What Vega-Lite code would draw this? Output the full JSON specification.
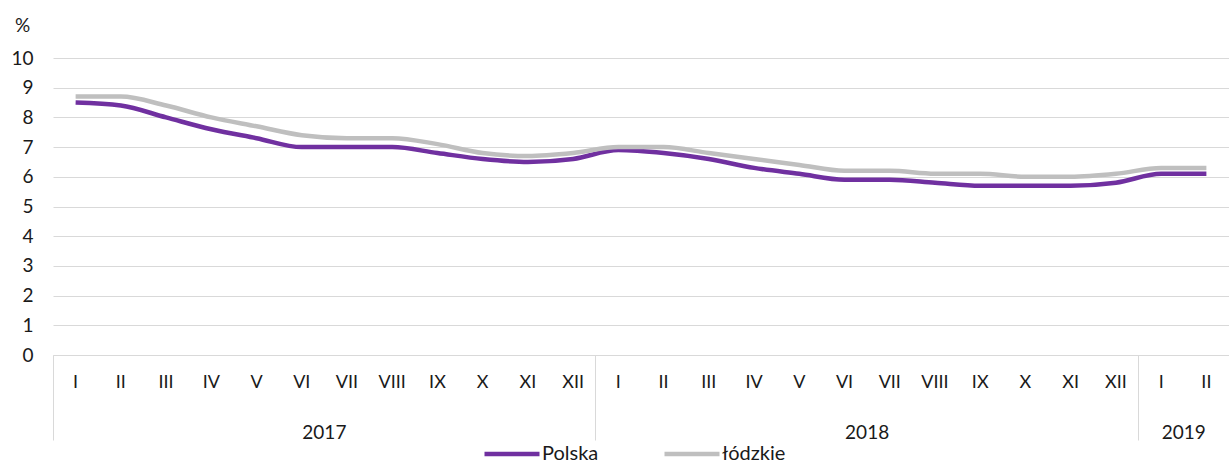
{
  "$schema": "https://vega.github.io/schema/vega-lite/v6.json",
  "width": 1176,
  "height": 297,
  "autosize": "none",
  "padding": {"left": 53, "top": 58, "right": 0, "bottom": 111},
  "background": "white",
  "config": {
    "view": {"stroke": null},
    "font": "Lato",
    "axis": {"labelFont": "Lato", "labelColor": "#1a1a1a", "titleFont": "Lato"},
    "axisY": {
      "titleAngle": 0, "titleX": -31, "titleY": -33,
      "titleAlign": "center", "titleBaseline": "middle", "titleFontSize": 19,
      "titleFontWeight": "normal", "titleColor": "#1a1a1a",
      "tickCount": 10, "labelOverlap": false,
      "domain": false, "ticks": false, "grid": true, "gridColor": "#D9D9D9",
      "gridWidth": 1, "labelFontSize": 19, "labelPadding": 20
    }
  },
  "data": {
    "values": [
      {"t": "I 2017", "series": "Polska", "value": 8.5},
      {"t": "II 2017", "series": "Polska", "value": 8.4},
      {"t": "III 2017", "series": "Polska", "value": 8.0},
      {"t": "IV 2017", "series": "Polska", "value": 7.6},
      {"t": "V 2017", "series": "Polska", "value": 7.3},
      {"t": "VI 2017", "series": "Polska", "value": 7.0},
      {"t": "VII 2017", "series": "Polska", "value": 7.0},
      {"t": "VIII 2017", "series": "Polska", "value": 7.0},
      {"t": "IX 2017", "series": "Polska", "value": 6.8},
      {"t": "X 2017", "series": "Polska", "value": 6.6},
      {"t": "XI 2017", "series": "Polska", "value": 6.5},
      {"t": "XII 2017", "series": "Polska", "value": 6.6},
      {"t": "I 2018", "series": "Polska", "value": 6.9},
      {"t": "II 2018", "series": "Polska", "value": 6.8},
      {"t": "III 2018", "series": "Polska", "value": 6.6},
      {"t": "IV 2018", "series": "Polska", "value": 6.3},
      {"t": "V 2018", "series": "Polska", "value": 6.1},
      {"t": "VI 2018", "series": "Polska", "value": 5.9},
      {"t": "VII 2018", "series": "Polska", "value": 5.9},
      {"t": "VIII 2018", "series": "Polska", "value": 5.8},
      {"t": "IX 2018", "series": "Polska", "value": 5.7},
      {"t": "X 2018", "series": "Polska", "value": 5.7},
      {"t": "XI 2018", "series": "Polska", "value": 5.7},
      {"t": "XII 2018", "series": "Polska", "value": 5.8},
      {"t": "I 2019", "series": "Polska", "value": 6.1},
      {"t": "II 2019", "series": "Polska", "value": 6.1},
      {"t": "I 2017", "series": "łódzkie", "value": 8.7},
      {"t": "II 2017", "series": "łódzkie", "value": 8.7},
      {"t": "III 2017", "series": "łódzkie", "value": 8.4},
      {"t": "IV 2017", "series": "łódzkie", "value": 8.0},
      {"t": "V 2017", "series": "łódzkie", "value": 7.7},
      {"t": "VI 2017", "series": "łódzkie", "value": 7.4},
      {"t": "VII 2017", "series": "łódzkie", "value": 7.3},
      {"t": "VIII 2017", "series": "łódzkie", "value": 7.3},
      {"t": "IX 2017", "series": "łódzkie", "value": 7.1},
      {"t": "X 2017", "series": "łódzkie", "value": 6.8},
      {"t": "XI 2017", "series": "łódzkie", "value": 6.7},
      {"t": "XII 2017", "series": "łódzkie", "value": 6.8},
      {"t": "I 2018", "series": "łódzkie", "value": 7.0},
      {"t": "II 2018", "series": "łódzkie", "value": 7.0},
      {"t": "III 2018", "series": "łódzkie", "value": 6.8},
      {"t": "IV 2018", "series": "łódzkie", "value": 6.6},
      {"t": "V 2018", "series": "łódzkie", "value": 6.4},
      {"t": "VI 2018", "series": "łódzkie", "value": 6.2},
      {"t": "VII 2018", "series": "łódzkie", "value": 6.2},
      {"t": "VIII 2018", "series": "łódzkie", "value": 6.1},
      {"t": "IX 2018", "series": "łódzkie", "value": 6.1},
      {"t": "X 2018", "series": "łódzkie", "value": 6.0},
      {"t": "XI 2018", "series": "łódzkie", "value": 6.0},
      {"t": "XII 2018", "series": "łódzkie", "value": 6.1},
      {"t": "I 2019", "series": "łódzkie", "value": 6.3},
      {"t": "II 2019", "series": "łódzkie", "value": 6.3}
    ]
  },
  "resolve": {"axis": {"x": "independent"}},
  "layer": [
    {
      "mark": {"type": "line", "opacity": 0},
      "encoding": {
        "x": {
          "field": "t", "type": "ordinal", "sort": null,
          "scale": {"type": "band", "paddingInner": 0, "paddingOuter": 0},
          "axis": {
            "orient": "bottom", "title": null, "labels": false, "domain": false,
            "grid": false, "ticks": true, "tickSize": 85, "tickColor": "#D9D9D9",
            "tickWidth": 1, "bandPosition": 0,
            "values": ["I 2017", "I 2018", "I 2019"]
          }
        },
        "y": {"field": "value", "type": "quantitative", "scale": {"domain": [0, 10], "nice": false}, "axis": {"title": "%"}}
      }
    },
    {
      "mark": {"type": "line", "opacity": 0},
      "encoding": {
        "x": {
          "field": "t", "type": "ordinal", "sort": null,
          "axis": {
            "orient": "bottom", "title": null, "domain": false, "ticks": false,
            "grid": false, "labelAngle": 0, "labelFontSize": 19,
            "labelPadding": 68, "labelOffset": 22.6,
            "values": ["VI 2017", "VI 2018", "I 2019"],
            "labelExpr": "split(datum.value, ' ')[1]"
          }
        },
        "y": {"field": "value", "type": "quantitative", "scale": {"domain": [0, 10], "nice": false}, "axis": {"title": "%"}}
      }
    },
    {
      "mark": {"type": "line", "strokeWidth": 4.5, "interpolate": "monotone"},
      "encoding": {
        "x": {
          "field": "t", "type": "ordinal", "sort": null,
          "axis": {
            "orient": "bottom", "title": null, "domain": true, "domainColor": "#D9D9D9",
            "domainWidth": 1, "ticks": false, "grid": false, "labelAngle": 0,
            "labelFontSize": 18, "labelPadding": 18,
            "labelExpr": "split(datum.value, ' ')[0]"
          }
        },
        "y": {
          "field": "value", "type": "quantitative",
          "scale": {"domain": [0, 10], "nice": false}, "axis": {"title": "%"}
        },
        "color": {
          "field": "series", "type": "nominal",
          "scale": {"domain": ["Polska", "łódzkie"], "range": ["#7030A0", "#BFBFBF"]},
          "legend": {
            "title": null, "orient": "none", "direction": "horizontal",
            "legendX": 429, "legendY": 366,
            "symbolType": "stroke", "symbolSize": 3025, "symbolStrokeWidth": 4.5,
            "labelFontSize": 20, "labelColor": "#1a1a1a", "labelOffset": 0,
            "columnPadding": 56
          }
        }
      }
    }
  ]
}
